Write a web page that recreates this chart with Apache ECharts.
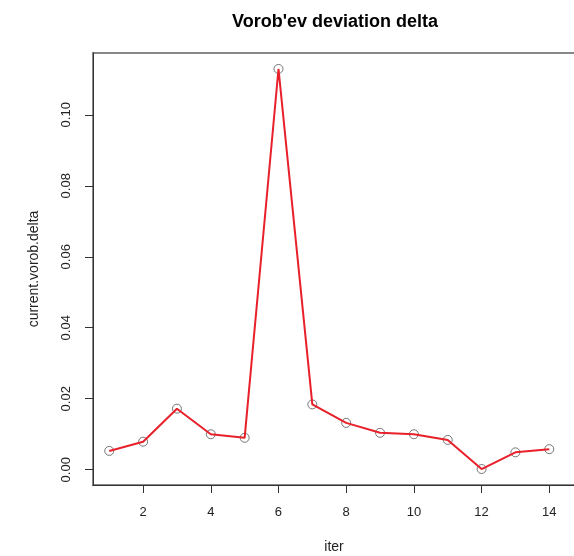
<!DOCTYPE html>
<html>
<head>
<meta charset="utf-8">
<script src="https://cdn.jsdelivr.net/npm/echarts@6/dist/echarts.min.js"></script>
<style>
  html, body { margin: 0; padding: 0; background: #fff; }
  #main { width: 574px; height: 556px; }
</style>
</head>
<body>
<div id="main"></div>
<script>
// iteration numbers and the deviation
var iters = [1, 2, 3, 4, 5, 6, 7, 8, 9, 10, 11, 12, 13, 14];
var deltas = [0.0053, 0.0079, 0.0172, 0.0100, 0.0090, 0.1129, 0.0184, 0.0132, 0.0104, 0.0100, 0.0084, 0.0002, 0.0049, 0.0058];
var xTicks = [2, 4, 6, 8, 10, 12, 14];
var yTicks = [0, 0.02, 0.04, 0.06, 0.08, 0.10];

var pts = iters.map(function (x, i) { return [x, deltas[i]]; });

var myChart = echarts.init(document.getElementById('main'));

var option = {
    animation: false,
    title: {
        text: "Vorob'ev deviation delta",
        left: 227,
        top: 8,
        textStyle: { fontFamily: 'Liberation Sans', fontSize: 18, fontWeight: 'bold', color: '#000' }
    },
    grid: {
        left: 93, top: 53, right: -1, bottom: 71,
        outerBoundsMode: 'none',
        containLabel: false,
        show: true, borderColor: '#888', borderWidth: 2
    },
    xAxis: {
        type: 'value',
        min: 0.52, max: 14.76,
        name: 'iter',
        nameLocation: 'middle',
        nameGap: 55,
        nameTextStyle: { fontFamily: 'Liberation Sans', fontSize: 14, color: '#222' },
        splitLine: { show: false },
        axisLine: { onZero: false, lineStyle: { color: '#333', width: 1 } },
        axisTick: { customValues: xTicks, length: 8, lineStyle: { color: '#333' } },
        axisLabel: {
            customValues: xTicks, margin: 21,
            fontFamily: 'Liberation Sans', fontSize: 13, color: '#222'
        }
    },
    yAxis: {
        type: 'value',
        min: -0.0043, max: 0.1174,
        name: 'current.vorob.delta',
        nameLocation: 'middle',
        nameGap: 52,
        nameTextStyle: { fontFamily: 'Liberation Sans', fontSize: 14, color: '#222' },
        splitLine: { show: false },
        axisLine: { onZero: false, lineStyle: { color: '#333', width: 1 } },
        axisTick: { customValues: yTicks, length: 8, lineStyle: { color: '#333' } },
        axisLabel: {
            customValues: yTicks, rotate: 90, margin: 20,
            fontFamily: 'Liberation Sans', fontSize: 13, color: '#222',
            formatter: function (v) { return v.toFixed(2); }
        }
    },
    series: [{
        type: 'scatter',
        data: pts,
        symbol: 'circle',
        symbolSize: 9,
        z: 1,
        itemStyle: { color: 'rgba(0,0,0,0)', borderColor: '#555', borderWidth: 1 }
    }, {
        type: 'line',
        data: pts,
        showSymbol: false,
        z: 2,
        lineStyle: { color: '#e8202a', width: 2 }
    }]
};

myChart.setOption(option);
</script>
</body>
</html>
